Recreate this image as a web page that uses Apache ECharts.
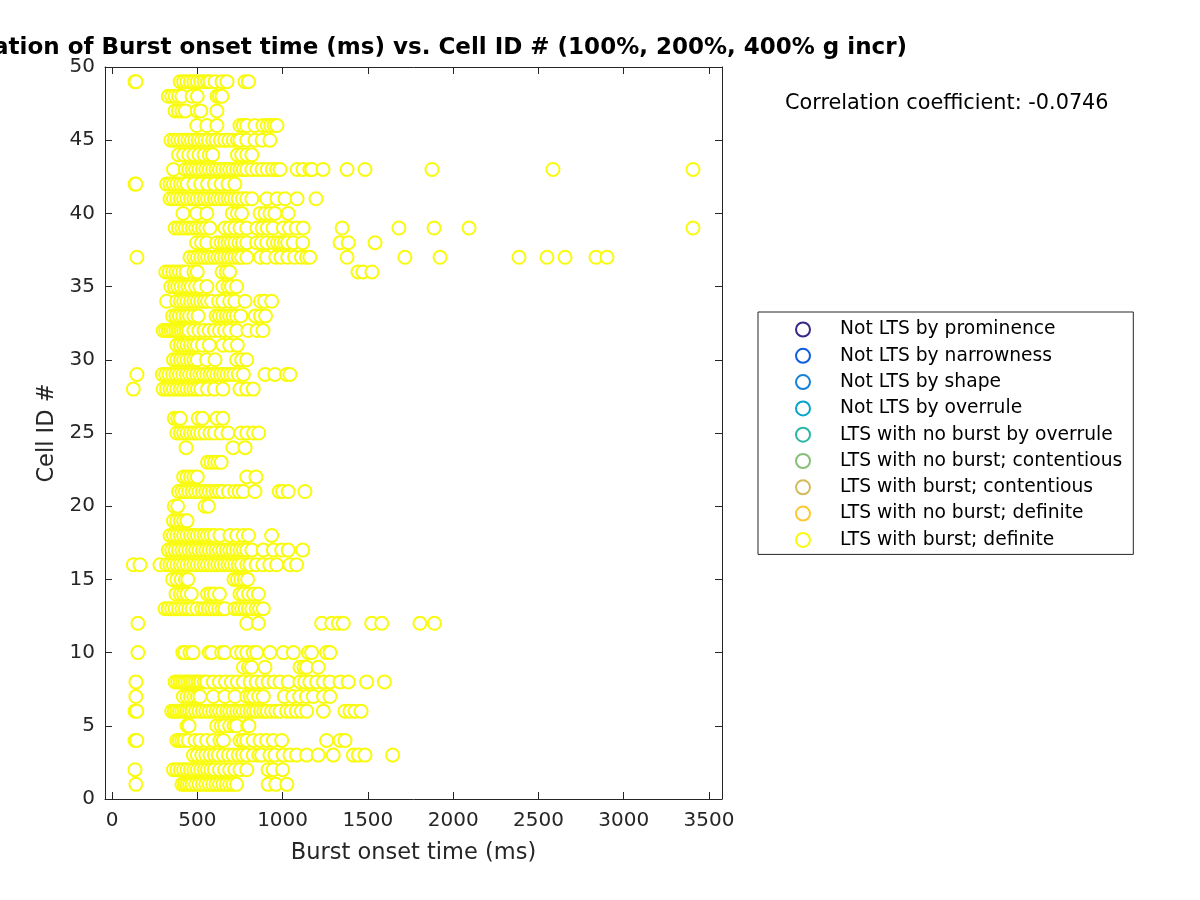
<!DOCTYPE html>
<html>
<head>
<meta charset="utf-8">
<script src="https://cdn.jsdelivr.net/npm/echarts@6/dist/echarts.min.js"></script>
<style>html,body{margin:0;padding:0;background:#fff}#chart{width:1200px;height:900px}</style>
</head>
<body>
<div id="chart"></div>
<script>
const titleText = 'Correlation of Burst onset time (ms) vs. Cell ID # (100%, 200%, 400% g incr)';
const corrText = 'Correlation coefficient: -0.0746';
const xName = 'Burst onset time (ms)';
const yName = 'Cell ID #';
const xTicks = [0, 500, 1000, 1500, 2000, 2500, 3000, 3500];
const yTicks = [0, 5, 10, 15, 20, 25, 30, 35, 40, 45, 50];
const legendNames = ['Not LTS by prominence','Not LTS by narrowness','Not LTS by shape','Not LTS by overrule','LTS with no burst by overrule','LTS with no burst; contentious','LTS with burst; contentious','LTS with no burst; definite','LTS with burst; definite'];
const legendColors = ['#352a87','#0f5cdd','#1481d6','#06a4ca','#2eb7a4','#87bf77','#d1bb59','#fec832','#f9fb0e'];

// Burst onset times (ms) per cell ID
const c1 = [140, 410, 425, 440, 455, 470, 490, 510, 530, 550, 570, 590, 610, 630, 650, 670, 690, 710, 730, 915, 960, 1025];
const c2 = [135, 360, 380, 400, 420, 440, 460, 480, 500, 520, 540, 560, 580, 600, 630, 660, 690, 720, 750, 790, 915, 945, 1000];
const c3 = [477, 500, 526, 550, 574, 600, 623, 653, 682, 710, 740, 765, 790, 828, 860, 877, 926, 955, 1004, 1043, 1082, 1141, 1209, 1297, 1415, 1444, 1483, 1645];
const c4 = [135, 145, 380, 395, 410, 425, 447, 487, 516, 555, 594, 633, 653, 750, 770, 790, 828, 868, 907, 946, 995, 1258, 1337, 1366];
const c5 = [440, 452, 614, 640, 660, 690, 715, 731, 795, 803];
const c6 = [135, 145, 350, 365, 380, 395, 410, 425, 440, 455, 470, 490, 510, 530, 550, 570, 590, 610, 630, 650, 672, 690, 710, 730, 750, 770, 790, 810, 830, 848, 870, 890, 910, 935, 960, 985, 1024, 1050, 1080, 1110, 1141, 1239, 1366, 1395, 1425, 1460];
const c7 = [140, 418, 440, 460, 480, 500, 516, 594, 662, 721, 790, 810, 830, 860, 887, 1010, 1060, 1100, 1140, 1180, 1240, 1278];
const c8 = [140, 370, 385, 400, 415, 430, 445, 460, 475, 490, 505, 520, 540, 555, 594, 630, 665, 700, 735, 770, 810, 845, 880, 915, 950, 985, 1033, 1102, 1130, 1160, 1200, 1240, 1278, 1337, 1385, 1493, 1597];
const c9 = [770, 800, 818, 897, 1102, 1125, 1141, 1209];
const c10 = [152, 415, 428, 457, 475, 570, 584, 643, 660, 731, 760, 790, 828, 848, 926, 1004, 1063, 1151, 1170, 1258, 1278];
const c12 = [152, 790, 858, 1229, 1288, 1327, 1356, 1522, 1581, 1805, 1890];
const c13 = [311, 330, 350, 370, 390, 410, 430, 450, 470, 497, 526, 545, 565, 585, 605, 625, 645, 662, 721, 740, 760, 780, 800, 820, 845, 865, 887];
const c14 = [375, 400, 420, 440, 465, 560, 580, 600, 630, 750, 770, 800, 830, 858];
const c15 = [355, 380, 405, 430, 445, 715, 735, 755, 775, 795];
const c16 = [125, 164, 281, 320, 340, 360, 380, 400, 420, 440, 460, 480, 500, 520, 540, 560, 580, 600, 620, 640, 660, 680, 700, 720, 740, 760, 790, 809, 845, 885, 925, 965, 1043, 1082];
const c17 = [330, 350, 370, 390, 410, 430, 450, 470, 490, 510, 530, 550, 570, 590, 610, 630, 650, 670, 690, 710, 730, 750, 770, 790, 820, 887, 946, 995, 1033, 1118];
const c18 = [340, 360, 380, 400, 420, 440, 460, 480, 500, 520, 540, 560, 580, 600, 633, 692, 731, 770, 800, 936];
const c19 = [360, 380, 400, 420, 440];
const c20 = [365, 385, 545, 565];
const c21 = [390, 410, 430, 450, 470, 490, 510, 530, 550, 570, 590, 610, 630, 650, 682, 720, 745, 770, 838, 980, 1000, 1033, 1131];
const c22 = [420, 440, 460, 480, 500, 790, 844];
const c23 = [560, 580, 600, 620, 640];
const c24 = [434, 709, 780];
const c25 = [380, 400, 420, 440, 460, 480, 500, 520, 545, 574, 600, 640, 680, 755, 790, 830, 860];
const c26 = [365, 385, 400, 505, 530, 615, 650];
const c28 = [125, 300, 320, 340, 360, 380, 400, 420, 440, 460, 480, 500, 520, 560, 600, 650, 750, 790, 828];
const c29 = [146, 295, 315, 335, 355, 375, 395, 415, 435, 455, 475, 495, 515, 535, 555, 575, 595, 615, 635, 655, 675, 695, 715, 740, 770, 897, 955, 1024, 1043];
const c30 = [360, 380, 400, 420, 440, 460, 480, 500, 555, 604, 731, 760, 790];
const c31 = [380, 400, 420, 440, 460, 480, 500, 530, 570, 650, 690, 735];
const c32 = [300, 315, 330, 345, 360, 375, 390, 405, 420, 435, 450, 480, 510, 540, 570, 600, 630, 660, 690, 731, 797, 850, 885];
const c33 = [355, 375, 395, 415, 435, 455, 480, 505, 610, 630, 650, 670, 690, 710, 730, 755, 840, 870, 900];
const c34 = [320, 380, 400, 420, 440, 460, 480, 500, 520, 540, 560, 584, 625, 650, 690, 720, 780, 870, 895, 936];
const c35 = [345, 365, 385, 405, 425, 445, 465, 490, 515, 556, 650, 680, 700, 730];
const c36 = [315, 335, 355, 375, 395, 415, 435, 480, 500, 645, 670, 690, 1442, 1471, 1524];
const c37 = [146, 457, 480, 500, 520, 540, 560, 580, 600, 620, 640, 660, 680, 700, 720, 740, 760, 790, 870, 905, 960, 990, 1030, 1070, 1110, 1140, 1160, 1378, 1717, 1923, 2386, 2550, 2656, 2837, 2902];
const c38 = [496, 525, 555, 614, 640, 660, 680, 700, 720, 745, 765, 790, 848, 875, 907, 946, 970, 990, 1010, 1030, 1063, 1118, 1337, 1385, 1542];
const c39 = [370, 390, 410, 430, 450, 470, 490, 510, 530, 550, 574, 662, 690, 720, 750, 790, 850, 880, 910, 944, 1004, 1040, 1080, 1121, 1349, 1682, 1888, 2093, 3406];
const c40 = [416, 497, 556, 705, 735, 760, 868, 897, 926, 955, 1033];
const c41 = [340, 360, 380, 400, 420, 440, 460, 480, 500, 520, 540, 560, 580, 600, 620, 640, 660, 680, 700, 720, 740, 765, 790, 820, 908, 967, 1014, 1085, 1196];
const c42 = [135, 140, 320, 340, 360, 380, 400, 420, 440, 480, 520, 560, 600, 640, 680, 720];
const c43 = [360, 430, 450, 470, 490, 510, 530, 550, 570, 590, 610, 630, 650, 670, 690, 710, 730, 750, 770, 790, 820, 850, 880, 910, 940, 965, 985, 1085, 1120, 1160, 1172, 1237, 1378, 1483, 1876, 2585, 3406];
const c44 = [390, 420, 450, 480, 510, 540, 570, 590, 735, 760, 790, 820];
const c45 = [345, 365, 385, 405, 425, 445, 465, 485, 505, 525, 545, 565, 590, 610, 635, 660, 685, 710, 735, 750, 790, 838, 880, 926];
const c46 = [497, 556, 615, 750, 770, 790, 838, 885, 910, 930, 950, 967];
const c47 = [370, 390, 410, 430, 500, 520, 615];
const c48 = [330, 350, 370, 390, 410, 470, 500, 615, 630, 645];
const c49 = [135, 140, 400, 420, 440, 460, 480, 500, 520, 540, 560, 575, 604, 645, 674, 780, 800];

const cellTable = [[1,c1],[2,c2],[3,c3],[4,c4],[5,c5],[6,c6],[7,c7],[8,c8],[9,c9],[10,c10],[12,c12],[13,c13],[14,c14],[15,c15],[16,c16],[17,c17],[18,c18],[19,c19],[20,c20],[21,c21],[22,c22],[23,c23],[24,c24],[25,c25],[26,c26],[28,c28],[29,c29],[30,c30],[31,c31],[32,c32],[33,c33],[34,c34],[35,c35],[36,c36],[37,c37],[38,c38],[39,c39],[40,c40],[41,c41],[42,c42],[43,c43],[44,c44],[45,c45],[46,c46],[47,c47],[48,c48],[49,c49]];

const points = [];
cellTable.forEach(([id, arr]) => arr.forEach(t => points.push([t, id])));

const FONT = 'DejaVu Sans';
const AX = '#262626';
const xMin = -41, xMax = 3576;

const series = legendNames.map((name, i) => ({
  name: name,
  type: 'scatter',
  xAxisIndex: 0, yAxisIndex: 0,
  symbol: 'emptyCircle',
  symbolSize: 13,
  itemStyle: { color: legendColors[i], borderColor: legendColors[i], borderWidth: 1.8, opacity: 1 },
  emphasis: { disabled: true },
  silent: true,
  animation: false,
  data: i === legendNames.length - 1 ? points : []
}));

const chart = echarts.init(document.getElementById('chart'), null, { renderer: 'canvas' });
chart.setOption({
  animation: false,
  backgroundColor: '#ffffff',
  graphic: [{
    type: 'text', x: 907, y: 48,
    style: { text: titleText, fontFamily: FONT, fontWeight: 'bold', fontSize: 23, fill: '#000', align: 'right', verticalAlign: 'middle' }
  }, {
    type: 'text', x: 785, y: 104,
    style: { text: corrText, fontFamily: FONT, fontSize: 20.8, fill: '#000', align: 'left', verticalAlign: 'middle' }
  }],
  legend: {
    orient: 'vertical',
    left: 758, top: 312,
    padding: [8, 11, 5, 37],
    itemGap: 7.3,
    itemWidth: 14, itemHeight: 14,
    icon: 'emptyCircle',
    borderColor: AX, borderWidth: 1,
    selectedMode: false,
    data: legendNames.map((n, i) => ({ name: n, icon: 'emptyCircle', itemStyle: { color: legendColors[i], borderColor: legendColors[i], borderWidth: 2 } })),
    textStyle: { fontFamily: FONT, fontSize: 18.7, color: '#000', lineHeight: 19, padding: [0, 0, 0, 25] }
  },
  grid: { left: 105, right: 478, top: 67, bottom: 101, containLabel: false },
  xAxis: [{
    type: 'value', min: xMin, max: xMax,
    name: xName, nameLocation: 'middle', nameGap: 43,
    nameTextStyle: { fontFamily: FONT, fontSize: 22.5, color: AX },
    axisLine: { show: true, onZero: false, lineStyle: { color: AX, width: 1 } },
    axisTick: { show: true, inside: true, length: 7, customValues: xTicks, lineStyle: { color: AX } },
    axisLabel: { show: true, customValues: xTicks, margin: 12, fontFamily: FONT, fontSize: 20, color: AX, formatter: v => String(v) },
    splitLine: { show: false }
  }, {
    type: 'value', min: xMin, max: xMax, position: 'top',
    axisLine: { show: true, onZero: false, lineStyle: { color: AX, width: 1 } },
    axisTick: { show: true, inside: true, length: 7, customValues: xTicks, lineStyle: { color: AX } },
    axisLabel: { show: false, customValues: xTicks },
    splitLine: { show: false }
  }],
  yAxis: [{
    type: 'value', min: 0, max: 50, interval: 5,
    name: yName, nameLocation: 'middle', nameGap: 43, nameRotate: 90,
    nameTextStyle: { fontFamily: FONT, fontSize: 22.5, color: AX },
    axisLine: { show: true, onZero: false, lineStyle: { color: AX, width: 1 } },
    axisTick: { show: true, inside: true, length: 7, customValues: yTicks, lineStyle: { color: AX } },
    axisLabel: { show: true, customValues: yTicks, margin: 10, fontFamily: FONT, fontSize: 20, color: AX, formatter: v => String(v) },
    splitLine: { show: false }
  }, {
    type: 'value', min: 0, max: 50, interval: 5, position: 'right',
    axisLine: { show: true, onZero: false, lineStyle: { color: AX, width: 1 } },
    axisTick: { show: true, inside: true, length: 7, customValues: yTicks, lineStyle: { color: AX } },
    axisLabel: { show: false },
    splitLine: { show: false }
  }],
  series: series
});
</script>
</body>
</html>
